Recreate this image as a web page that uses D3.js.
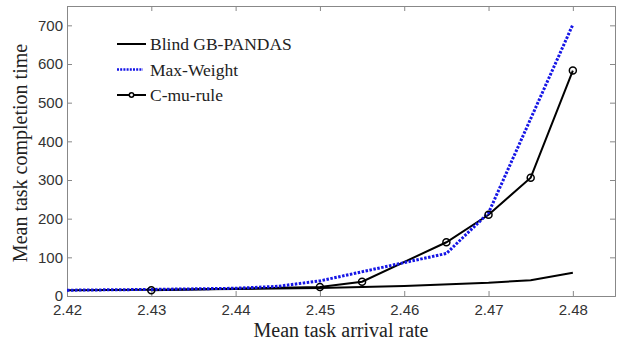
<!DOCTYPE html>
<html>
<head>
<meta charset="utf-8">
<script src="https://cdn.jsdelivr.net/npm/d3@7"></script>
<style>
  body { margin: 0; background: #fff; }
  .axis text { font-family: "Liberation Sans", Arial, sans-serif; font-size: 15px; fill: #333; }
  .axis path, .axis line { stroke: #888; }
  .lbl { font-family: "Liberation Serif", "Times New Roman", serif; font-size: 17.5px; fill: #222; }
  .ttl { font-family: "Liberation Serif", "Times New Roman", serif; font-size: 20px; fill: #222; }
</style>
</head>
<body>
<svg id="chart"></svg>
<script>
// data
var blindX = [2.42, 2.43, 2.44, 2.45, 2.46, 2.47, 2.475, 2.48];
var blindY = [15, 16, 18, 21, 26, 34, 41, 60];

var maxwX = [2.42, 2.43, 2.44, 2.445, 2.45, 2.465, 2.47, 2.48];
var maxwY = [15, 17, 20, 25, 39, 110, 215, 702];

var cmuX = [2.43, 2.45, 2.455, 2.465, 2.47, 2.475, 2.48];
var cmuY = [15, 23, 37, 139, 210, 306, 583];

var xTicks = [2.42, 2.43, 2.44, 2.45, 2.46, 2.47, 2.48];
var yTicks = [0, 100, 200, 300, 400, 500, 600, 700];
var legendNames = ["Blind GB-PANDAS", "Max-Weight", "C-mu-rule"];

var W = 622, H = 344;
var margin = {top: 6, right: 7, bottom: 48, left: 67};
var width = W - margin.left - margin.right;
var height = H - margin.top - margin.bottom;

var svg = d3.select("#chart").attr("width", W).attr("height", H);
var g = svg.append("g").attr("transform", "translate(" + margin.left + "," + margin.top + ")");

var x = d3.scaleLinear().domain([2.42, 2.485]).range([0, width]);
var y = d3.scaleLinear().domain([0, 750]).range([height, 0]);

function zip(xs, ys) { return xs.map(function(v, i) { return [v, ys[i]]; }); }

// box + ticks (inward, on all four sides)
g.append("g").attr("class", "axis")
	.attr("transform", "translate(0," + height + ")")
	.call(d3.axisBottom(x).tickValues(xTicks).tickSize(-5).tickPadding(8).tickFormat(d3.format(".2f")));
g.append("g").attr("class", "axis")
	.call(d3.axisTop(x).tickValues(xTicks).tickSize(-5).tickFormat(""));
g.append("g").attr("class", "axis")
	.call(d3.axisLeft(y).tickValues(yTicks).tickSize(-5).tickPadding(4));
g.append("g").attr("class", "axis")
	.attr("transform", "translate(" + width + ",0)")
	.call(d3.axisRight(y).tickValues(yTicks).tickSize(-5).tickFormat(""));
g.selectAll(".axis .domain").attr("stroke", "#888");

var line = d3.line()
	.x(function(d) { return x(d[0]); })
	.y(function(d) { return y(d[1]); });

g.append("path").datum(zip(blindX, blindY))
	.attr("d", line).attr("fill", "none").attr("stroke", "#000").attr("stroke-width", 2);

g.append("path").datum(zip(cmuX, cmuY))
	.attr("d", line).attr("fill", "none").attr("stroke", "#000").attr("stroke-width", 2);

g.append("path").datum(zip(maxwX, maxwY))
	.attr("d", line).attr("fill", "none").attr("stroke", "#1515e6")
	.attr("stroke-width", 3).attr("stroke-dasharray", "2.5,1.5");

g.selectAll("circle.cmu").data(zip(cmuX, cmuY)).enter().append("circle")
	.attr("class", "cmu")
	.attr("cx", function(d) { return x(d[0]); })
	.attr("cy", function(d) { return y(d[1]); })
	.attr("r", 3.5).attr("fill", "none").attr("stroke", "#000").attr("stroke-width", 1.5);

// legend
var leg = svg.append("g").attr("transform", "translate(117,44)");
legendNames.forEach(function(name, i) {
	var row = leg.append("g").attr("transform", "translate(0," + (i * 25.5) + ")");
	var ln = row.append("line").attr("x1", 0).attr("x2", i === 1 ? 26 : 29).attr("y1", 0).attr("y2", 0);
	if (i === 1) ln.attr("stroke", "#1515e6").attr("stroke-width", 2.5).attr("stroke-dasharray", "2,1.2");
	else ln.attr("stroke", "#000").attr("stroke-width", 2);
	if (i === 2) row.append("circle").attr("cx", 14.5).attr("cy", 0).attr("r", 2.2)
		.attr("fill", "#fff").attr("stroke", "#000").attr("stroke-width", 1.5);
	row.append("text").attr("class", "lbl").attr("x", 33).attr("y", 6).text(name);
});

// axis titles
svg.append("text").attr("class", "ttl")
	.attr("x", margin.left + width / 2).attr("y", 337)
	.attr("text-anchor", "middle").text("Mean task arrival rate");
svg.append("text").attr("class", "ttl")
	.attr("transform", "translate(27," + (margin.top + height / 2 + 2) + ") rotate(-90)")
	.attr("text-anchor", "middle").text("Mean task completion time");
</script>
</body>
</html>
